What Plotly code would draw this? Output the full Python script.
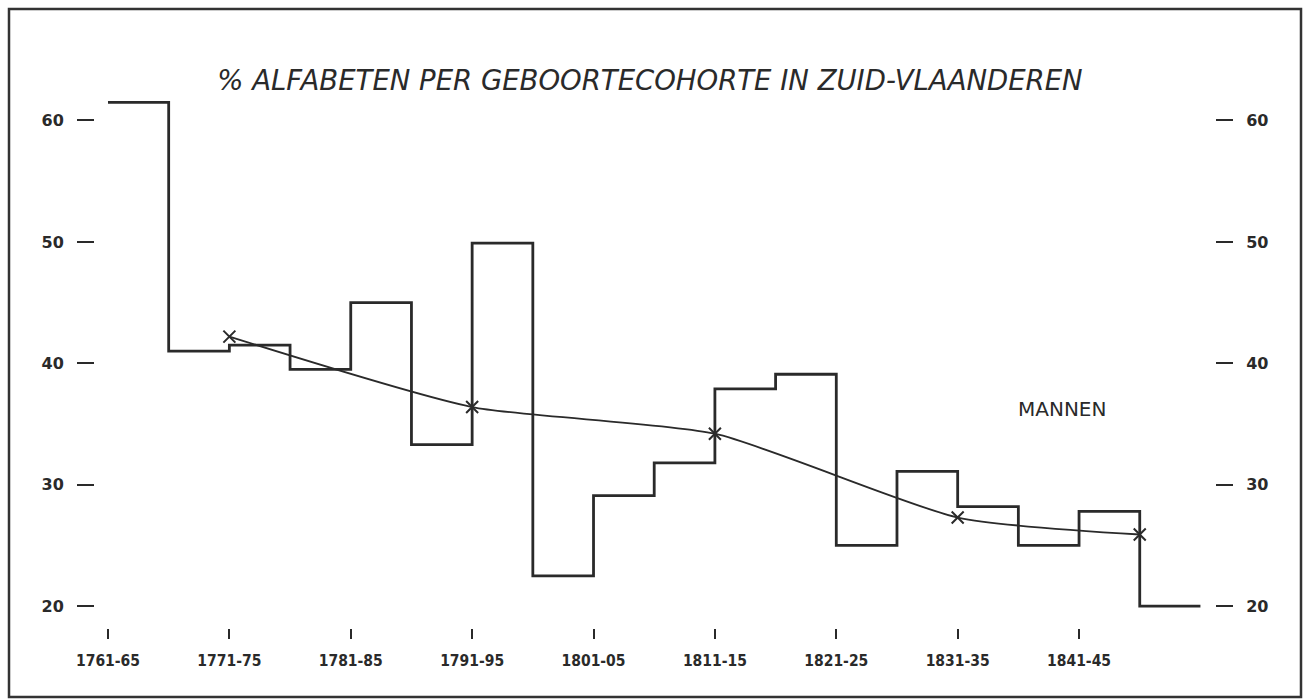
import plotly.graph_objects as go

# ---- data ----
cohorts = ["1761-65", "1766-70", "1771-75", "1776-80", "1781-85", "1786-90",
           "1791-95", "1796-1800", "1801-05", "1806-10", "1811-15", "1816-20",
           "1821-25", "1826-30", "1831-35", "1836-40", "1841-45", "1846-50"]
pct_literate = [61.5, 41.0, 41.5, 39.5, 45.0, 33.3, 49.9, 22.5, 29.1, 31.8,
                37.9, 39.1, 25.0, 31.1, 28.2, 25.0, 27.8, 20.0]

trend_cohorts = ["1771-75", "1791-95", "1811-15", "1831-35", "1846-50"]
trend_values = [42.2, 36.4, 34.2, 27.3, 25.9]

tick_labels = ["1761-65", "1771-75", "1781-85", "1791-95", "1801-05",
               "1811-15", "1821-25", "1831-35", "1841-45"]
y_ticks = [20, 30, 40, 50, 60]

title_text = "% ALFABETEN PER GEBOORTECOHORTE IN ZUID-VLAANDEREN"
series_label = "MANNEN"

# ---- derived positions (cohort index on x axis) ----
idx = {c: i for i, c in enumerate(cohorts)}
step_x = list(range(len(cohorts))) + [len(cohorts)]
step_y = pct_literate + [pct_literate[-1]]
trend_x = [idx[c] for c in trend_cohorts]
tick_x = [idx[c] for c in tick_labels]

ink = "#2a2a2a"
fig = go.Figure()
fig.add_trace(go.Scatter(x=step_x, y=step_y, mode="lines",
                         line=dict(shape="hv", color=ink, width=2.8),
                         hoverinfo="skip", showlegend=False))
fig.add_trace(go.Scatter(x=trend_x, y=trend_values, mode="lines+markers",
                         line=dict(shape="spline", smoothing=0.6, color=ink, width=1.8),
                         marker=dict(symbol="x-thin", size=12,
                                     line=dict(color=ink, width=2)),
                         hoverinfo="skip", showlegend=False))
# invisible trace to anchor right axis
fig.add_trace(go.Scatter(x=[0], y=[40], yaxis="y2", mode="markers",
                         marker=dict(opacity=0), hoverinfo="skip", showlegend=False))

W, H = 1304, 700
L, R, T, B = 95, 89, 78, 72
pw, ph = W - L - R, H - T - B

tickfont = dict(family="DejaVu Sans", size=16, color=ink, weight="bold")
yax = dict(range=[18.2, 63.5], tickvals=y_ticks, showgrid=False, zeroline=False,
           showline=False, ticks="outside", ticklen=17, tickwidth=2.2, tickcolor=ink,
           ticklabelstandoff=10, tickfont=tickfont, fixedrange=True)

fig.update_layout(
    width=W, height=H,
    margin=dict(l=L, r=R, t=T, b=B),
    paper_bgcolor="white", plot_bgcolor="white",
    title=dict(text=title_text, x=650 / W, xanchor="center",
               y=1 - 80 / H, yanchor="middle", yref="container",
               font=dict(family="DejaVu Sans", size=27.5, color=ink, style="italic")),
    xaxis=dict(range=[-0.214, 18.24], tickvals=tick_x, ticktext=tick_labels,
               showgrid=False, zeroline=False, showline=False,
               ticks="outside", ticklen=10, tickwidth=2, tickcolor=ink,
               ticklabelstandoff=8,
               tickfont=dict(family="DejaVu Sans Condensed", size=15.5, color=ink, weight="bold")),
    yaxis=yax,
    yaxis2=dict(yax, overlaying="y", side="right"),
    annotations=[dict(text=series_label, x=15.72, y=36.2, xref="x", yref="y",
                      showarrow=False, xanchor="center", yanchor="middle",
                      font=dict(family="DejaVu Sans", size=20, color=ink))],
    shapes=[dict(type="rect", xref="paper", yref="paper",
                 x0=(9 - L) / pw, x1=(1301 - L) / pw,
                 y0=(H - B - 697) / ph, y1=(H - B - 9) / ph,
                 line=dict(color="#333", width=2.5))],
)

fig.write_html("out.html", config={"displayModeBar": False},
               post_script="document.body.style.margin='0';document.body.style.overflow='hidden';")
